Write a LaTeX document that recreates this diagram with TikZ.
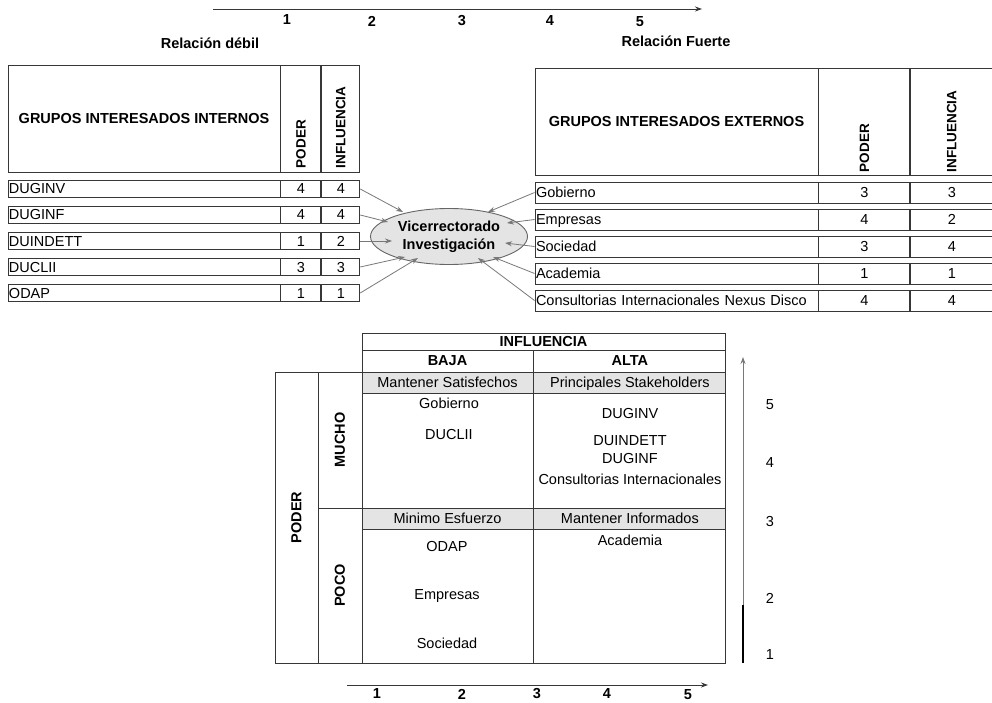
\documentclass[tikz,border=0pt]{standalone}
\usepackage{fontspec}
\setmainfont{Liberation Sans}
\usetikzlibrary{positioning,shapes.geometric,arrows.meta}

\definecolor{linegray}{RGB}{55,55,55}
\definecolor{arrowgray}{RGB}{120,120,120}
\definecolor{cellgray}{RGB}{228,228,228}

\tikzset{
  cell/.style={draw=linegray, line width=0.9pt, inner sep=1pt},
  rowcell/.style={cell, text height=10.5pt, text depth=0.5pt},
  lname/.style={rowcell, minimum height=17, text width=270, align=left},
  rname/.style={rowcell, minimum height=21, text width=281, align=left},
  numcell/.style={rowcell, align=center},
  vlabel/.style={rotate=90, inner sep=0pt, font=\bfseries\fontsize{13.5}{15}\selectfont},
  boldtext/.style={font=\bfseries\fontsize{14.5}{17}\selectfont},
  arr/.style={-{Stealth[length=7pt,width=5pt]}, arrowgray, line width=0.8pt},
}

\begin{document}
\begin{tikzpicture}[x=1pt, y=-1pt, font=\fontsize{14.5}{17}\selectfont]
    \useasboundingbox (0,0) rectangle (992,703);

    % escala de relacion
    \coordinate (topL) at (213,9);
    \coordinate (topR) at (702,9);
    \draw[-{Stealth[length=7pt,width=5pt]}, linegray, line width=0.9pt] (topL) -- (topR);
    \node[boldtext] (t1) at (287,20) {1};
    \node[boldtext] (t2) at (372,21) {2};
    \node[boldtext] (t3) at (462,21) {3};
    \node[boldtext] (t4) at (550,21) {4};
    \node[boldtext] (t5) at (640,22) {5};
    \node[boldtext] (debil) at (210,43) {Relación débil};
    \node[boldtext] (fuerte) at (676,41) {Relación Fuerte};

    % grupos internos
    \node[cell, minimum width=272, minimum height=107, boldtext] (hIntName) at (144,118.5) {GRUPOS INTERESADOS INTERNOS};
    \node[cell, minimum width=40, minimum height=107, right=0pt of hIntName] (hIntPod) {};
    \node[cell, minimum width=38, minimum height=107, right=0pt of hIntPod] (hIntInf) {};
    \node[vlabel, anchor=west] (lIntPod) at ([yshift=4pt]hIntPod.south) {PODER};
    \node[vlabel, anchor=west] (lIntInf) at ([yshift=4pt]hIntInf.south) {INFLUENCIA};

    \node[lname] (duginv) at (144,189) {DUGINV};
    \node[numcell, minimum width=40, minimum height=17, right=0pt of duginv] (duginvP) {4};
    \node[numcell, minimum width=38, minimum height=17, right=0pt of duginvP] (duginvI) {4};
    \node[lname] (duginf) at (144,215) {DUGINF};
    \node[numcell, minimum width=40, minimum height=17, right=0pt of duginf] (duginfP) {4};
    \node[numcell, minimum width=38, minimum height=17, right=0pt of duginfP] (duginfI) {4};
    \node[lname] (duindett) at (144,241) {DUINDETT};
    \node[numcell, minimum width=40, minimum height=17, right=0pt of duindett] (duindettP) {1};
    \node[numcell, minimum width=38, minimum height=17, right=0pt of duindettP] (duindettI) {2};
    \node[lname] (duclii) at (144,267) {DUCLII};
    \node[numcell, minimum width=40, minimum height=17, right=0pt of duclii] (dusliiP) {3};
    \node[numcell, minimum width=38, minimum height=17, right=0pt of dusliiP] (ducliiI) {3};
    \node[lname] (odap) at (144,293) {ODAP};
    \node[numcell, minimum width=40, minimum height=17, right=0pt of odap] (odapP) {1};
    \node[numcell, minimum width=38, minimum height=17, right=0pt of odapP] (odapI) {1};

    % grupos externos
    \node[cell, minimum width=283, minimum height=107, boldtext] (hExtName) at (676.5,121.5) {GRUPOS INTERESADOS EXTERNOS};
    \node[cell, minimum width=91, minimum height=107, right=0pt of hExtName] (hExtPod) {};
    \node[cell, minimum width=82, minimum height=107, right=0pt of hExtPod] (hExtInf) {};
    \node[vlabel, anchor=west] (lExtPod) at ([yshift=3pt]hExtPod.south) {PODER};
    \node[vlabel, anchor=west] (lExtInf) at ([yshift=3pt]hExtInf.south) {INFLUENCIA};

    \node[rname] (gobierno) at (676.5,192.5) {Gobierno};
    \node[numcell, minimum width=91, minimum height=21, right=0pt of gobierno] (gobiernoP) {3};
    \node[numcell, minimum width=82, minimum height=21, right=0pt of gobiernoP] (gobiernoI) {3};
    \node[rname] (empresas) at (676.5,219.5) {Empresas};
    \node[numcell, minimum width=91, minimum height=21, right=0pt of empresas] (empresasP) {4};
    \node[numcell, minimum width=82, minimum height=21, right=0pt of empresasP] (empresasI) {2};
    \node[rname] (sociedad) at (676.5,246.5) {Sociedad};
    \node[numcell, minimum width=91, minimum height=21, right=0pt of sociedad] (sociedadP) {3};
    \node[numcell, minimum width=82, minimum height=21, right=0pt of sociedadP] (sociedadI) {4};
    \node[rname] (academia) at (676.5,273.5) {Academia};
    \node[numcell, minimum width=91, minimum height=21, right=0pt of academia] (academiaP) {1};
    \node[numcell, minimum width=82, minimum height=21, right=0pt of academiaP] (academiaI) {1};
    \node[rname] (consult) at (676.5,300.5) {Consultorias Internacionales Nexus Disco};
    \node[numcell, minimum width=91, minimum height=21, right=0pt of consult] (consultP) {4};
    \node[numcell, minimum width=82, minimum height=21, right=0pt of consultP] (consultI) {4};

    % vicerrectorado
    \node[ellipse, draw=black!60, line width=0.9pt, fill=cellgray, inner sep=0pt, minimum width=157, minimum height=56,
          align=center, font=\bfseries\fontsize{14.5}{18}\selectfont] (vice) at (449,236.5) {Vicerrectorado\\Investigación};

    \coordinate (inA) at (403,212);
    \coordinate (inB) at (388,222);
    \coordinate (inC) at (392,241);
    \coordinate (inD) at (405,257);
    \coordinate (inE) at (418,258);
    \coordinate (exA) at (488,212);
    \coordinate (exB) at (507,223);
    \coordinate (exC) at (505,243);
    \coordinate (exD) at (493,257);
    \coordinate (exE) at (478,258);

    \draw[arr] (duginvI.east) -- (inA);
    \draw[arr] (duginfI.east) -- (inB);
    \draw[arr] (duindettI.east) -- (inC);
    \draw[arr] (ducliiI.east) -- (inD);
    \draw[arr] (odapI.east) -- (inE);
    \draw[arr] (gobierno.west) -- (exA);
    \draw[arr] (empresas.west) -- (exB);
    \draw[arr] (sociedad.west) -- (exC);
    \draw[arr] (academia.west) -- (exD);
    \draw[arr] (consult.west) -- (exE);

    % matriz poder / influencia
    \node[cell, minimum width=363, minimum height=17, boldtext] (infl) at (543.5,341.5) {INFLUENCIA};
    \node[cell, minimum width=171, minimum height=22, boldtext] (baja) at (447.5,361) {BAJA};
    \node[cell, minimum width=192, minimum height=22, boldtext, right=0pt of baja] (alta) {ALTA};
    \node[cell, rotate=90, minimum width=291, minimum height=43, boldtext] (poder) at (296.5,517.5) {PODER};
    \node[cell, rotate=90, minimum width=136, minimum height=44, boldtext] (mucho) at (340,440) {MUCHO};
    \node[cell, rotate=90, minimum width=155, minimum height=44, boldtext] (poco) at (340,585.5) {POCO};

    \node[rowcell, fill=cellgray, minimum width=171, minimum height=21] (satis) at (447.5,382.5) {Mantener Satisfechos};
    \node[rowcell, fill=cellgray, minimum width=192, minimum height=21, right=0pt of satis] (stake) {Principales Stakeholders};
    \node[cell, minimum width=171, minimum height=115] (mb) at (447.5,450.5) {};
    \node[cell, minimum width=192, minimum height=115, right=0pt of mb] (ma) {};
    \node[rowcell, fill=cellgray, minimum width=171, minimum height=21] (minimo) at (447.5,518.5) {Minimo Esfuerzo};
    \node[rowcell, fill=cellgray, minimum width=192, minimum height=21, right=0pt of minimo] (informados) {Mantener Informados};
    \node[cell, minimum width=171, minimum height=134] (pb) at (447.5,596) {};
    \node[cell, minimum width=192, minimum height=134, right=0pt of pb] (pa) {};

    \node (qGob) at (449,403) {Gobierno};
    \node (qDuclii) at (449,435) {DUCLII};
    \node (qDuginv) at (630,414) {DUGINV};
    \node (qDuindett) at (630,441) {DUINDETT};
    \node (qDuginf) at (630,459) {DUGINF};
    \node (qConsult) at (630,479) {Consultorias Internacionales};
    \node (qOdap) at (447,547) {ODAP};
    \node (qEmp) at (447,596) {Empresas};
    \node (qSoc) at (447,643) {Sociedad};
    \node (qAcad) at (630,540) {Academia};

    % ejes
    \coordinate (botL) at (347,685);
    \coordinate (botR) at (708,685);
    \draw[-{Stealth[length=7pt,width=5pt]}, linegray, line width=0.9pt] (botL) -- (botR);
    \node[boldtext] (b1) at (377,694) {1};
    \node[boldtext] (b2) at (462,694) {2};
    \node[boldtext] (b3) at (537,694) {3};
    \node[boldtext] (b4) at (607,694) {4};
    \node[boldtext] (b5) at (688,695) {5};

    \coordinate (rgtB) at (743,663);
    \coordinate (rgtM) at (743,605);
    \coordinate (rgtT) at (743,357);
    \draw[-{Stealth[length=7pt,width=5pt]}, arrowgray, line width=0.9pt] (rgtB) -- (rgtT);
    \draw[black, line width=1.3pt] (rgtB) -- (rgtM);
    \node (r5) at (770,405) {5};
    \node (r4) at (770,463) {4};
    \node (r3) at (770,522) {3};
    \node (r2) at (770,598) {2};
    \node (r1) at (770,655) {1};
\end{tikzpicture}
\end{document}
